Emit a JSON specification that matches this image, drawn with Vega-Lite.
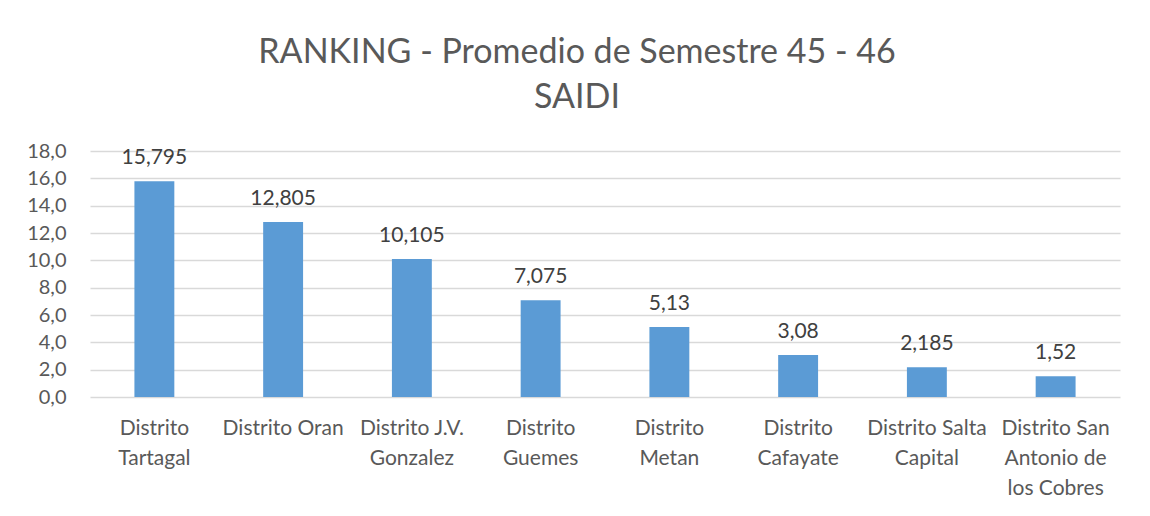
{
  "$schema": "https://vega.github.io/schema/vega-lite/v6.json",
  "autosize": "none",
  "width": 1030,
  "height": 246,
  "padding": {"left": 90, "top": 151, "right": 30, "bottom": 119},
  "background": "white",
  "config": {
    "locale": {"number": {"decimal": ",", "thousands": ".", "grouping": [3], "currency": ["$", ""]}},
    "view": {"stroke": null},
    "font": "Lato"
  },
  "title": {
    "text": ["RANKING - Promedio de Semestre 45 - 46", "SAIDI"],
    "fontSize": 34,
    "fontWeight": "normal",
    "color": "#595959",
    "lineHeight": 45,
    "anchor": "middle",
    "dx": -28,
    "offset": 26
  },
  "data": {
    "values": [
      {"distrito": "Distrito Tartagal", "saidi": 15.795},
      {"distrito": "Distrito Oran", "saidi": 12.805},
      {"distrito": "Distrito J.V. Gonzalez", "saidi": 10.105},
      {"distrito": "Distrito Guemes", "saidi": 7.075},
      {"distrito": "Distrito Metan", "saidi": 5.13},
      {"distrito": "Distrito Cafayate", "saidi": 3.08},
      {"distrito": "Distrito Salta Capital", "saidi": 2.185},
      {"distrito": "Distrito San Antonio de los Cobres", "saidi": 1.52}
    ]
  },
  "encoding": {
    "x": {
      "field": "distrito",
      "type": "nominal",
      "sort": null,
      "scale": {"paddingInner": 0.69, "paddingOuter": 0.345},
      "axis": {
        "title": null,
        "labelAngle": 0,
        "labelFontSize": 21,
        "labelColor": "#595959",
        "labelPadding": 20,
        "labelLineHeight": 30,
        "labelLimit": 200,
        "ticks": false,
        "domain": false,
        "labelExpr": "datum.value == 'Distrito Tartagal' ? ['Distrito', 'Tartagal'] : datum.value == 'Distrito J.V. Gonzalez' ? ['Distrito J.V.', 'Gonzalez'] : datum.value == 'Distrito Guemes' ? ['Distrito', 'Guemes'] : datum.value == 'Distrito Metan' ? ['Distrito', 'Metan'] : datum.value == 'Distrito Cafayate' ? ['Distrito', 'Cafayate'] : datum.value == 'Distrito Salta Capital' ? ['Distrito Salta', 'Capital'] : datum.value == 'Distrito San Antonio de los Cobres' ? ['Distrito San', 'Antonio de', 'los Cobres'] : datum.value"
      }
    },
    "y": {
      "field": "saidi",
      "type": "quantitative",
      "scale": {"domain": [0, 18], "nice": false},
      "axis": {
        "title": null,
        "values": [0, 2, 4, 6, 8, 10, 12, 14, 16, 18],
        "format": ".1f",
        "labelFontSize": 20,
        "labelColor": "#595959",
        "labelPadding": 24,
        "ticks": false,
        "domain": false,
        "gridColor": "#d9d9d9",
        "gridWidth": 1.3
      }
    }
  },
  "layer": [
    {"mark": {"type": "bar", "color": "#5b9bd5"}},
    {
      "mark": {"type": "text", "dy": -23, "fontSize": 21, "color": "#404040"},
      "encoding": {"text": {"field": "saidi", "type": "quantitative", "format": ".3~f"}}
    }
  ]
}
